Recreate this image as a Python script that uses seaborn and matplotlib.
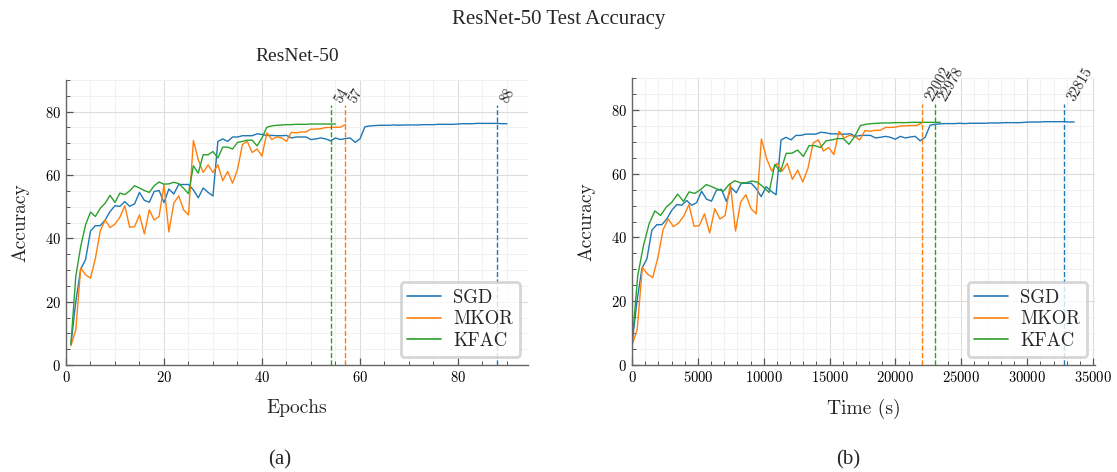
import pandas as pd
import matplotlib
matplotlib.use('Agg')
import matplotlib.pyplot as plt
from matplotlib.ticker import MultipleLocator
import seaborn as sns

# --- data (test accuracy per epoch, epochs start at 1) ---
OPTIMIZERS = ['SGD', 'MKOR', 'KFAC']
COLORS = {'SGD': '#1f77b4', 'MKOR': '#ff7f0e', 'KFAC': '#2ca02c'}

SGD_ACC = [6.5, 20.0, 30.3, 33.3, 42.3, 44.0, 44.0, 45.8, 48.5, 50.3,
           50.1, 51.6, 50.1, 50.9, 54.5, 52.0, 51.4, 54.8, 55.1, 51.3,
           55.6, 54.0, 57.0, 57.0, 57.0, 55.3, 52.8, 55.9, 54.5, 53.4,
           70.6, 71.4, 70.6, 72.0, 72.0, 72.4, 72.4, 72.4, 73.0, 72.8,
           72.5, 72.5, 72.4, 72.4, 72.5, 71.7, 72.0, 72.0, 72.0, 71.2,
           71.4, 71.7, 71.4, 70.8, 71.7, 71.2, 71.5, 71.7, 70.3, 71.4,
           75.2, 75.5, 75.6, 75.7, 75.7, 75.7, 75.8, 75.7, 75.8, 75.8,
           75.8, 75.8, 75.9, 75.9, 75.9, 76.0, 76.0, 76.0, 76.0, 76.1,
           76.2, 76.2, 76.2, 76.3, 76.3, 76.3, 76.3, 76.3, 76.2, 76.2]
MKOR_ACC = [6.1, 11.1, 30.6, 28.5, 27.4, 33.7, 42.4, 45.8, 43.4, 44.5,
            46.7, 50.3, 43.5, 43.7, 47.4, 41.4, 49.0, 45.8, 46.9, 56.9,
            42.0, 51.1, 53.4, 49.0, 47.4, 70.9, 64.8, 60.8, 63.2, 60.8,
            63.2, 58.2, 61.1, 57.4, 61.7, 69.6, 70.6, 67.1, 68.2, 66.0,
            73.3, 71.2, 72.0, 71.7, 70.6, 73.5, 73.3, 73.6, 73.6, 74.5,
            74.5, 74.6, 75.0, 75.0, 75.1, 75.1, 75.9]
KFAC_ACC = [6.5, 28.0, 37.4, 44.3, 48.3, 46.9, 49.5, 51.1, 53.6, 51.3,
            54.3, 53.8, 55.0, 56.6, 55.9, 55.1, 54.5, 56.6, 57.8, 57.1,
            57.2, 57.7, 57.3, 55.8, 54.1, 62.9, 60.6, 66.4, 66.4, 67.4,
            65.4, 68.8, 68.8, 68.2, 70.3, 70.6, 71.0, 71.0, 69.2, 71.7,
            75.1, 75.5, 75.7, 75.8, 75.9, 75.9, 76.0, 76.0, 76.0, 76.1,
            76.1, 76.1, 76.1, 76.1, 76.1]

# wall-clock seconds per epoch, taken from the time labels in panel (b)
SEC_PER_EPOCH = {'SGD': 377.2, 'MKOR': 392.9, 'KFAC': 433.6}

# epoch / time where each optimizer hits the target accuracy
TARGET_EPOCH = {'KFAC': 54, 'MKOR': 57, 'SGD': 88}
TARGET_TIME = {'MKOR': 22002, 'KFAC': 22978, 'SGD': 32815}
MARK_TOP = 82

ACC = {'SGD': SGD_ACC, 'MKOR': MKOR_ACC, 'KFAC': KFAC_ACC}

rows = []
for opt in OPTIMIZERS:
    for i, acc in enumerate(ACC[opt]):
        rows.append({'Optimizer': opt, 'Epoch': i + 1,
                     'Time': i * SEC_PER_EPOCH[opt], 'Accuracy': acc})
df = pd.DataFrame(rows)

sns.set_style('ticks')
plt.rcParams['font.family'] = ['cmr10', 'DejaVu Serif']
plt.rcParams['mathtext.fontset'] = 'cm'
plt.rcParams['axes.formatter.use_mathtext'] = True
plt.rcParams['axes.unicode_minus'] = False

TIMES = ['Liberation Serif', 'DejaVu Serif']

fig = plt.figure(figsize=(11.17, 4.72), dpi=100)
ax1 = fig.add_axes([66 / 1117, 1 - 365 / 472, 462 / 1117, 285 / 472])
ax2 = fig.add_axes([632 / 1117, 1 - 365 / 472, 463 / 1117, 287 / 472])


def style_axes(ax, xmajor, xminor):
    ax.xaxis.set_major_locator(MultipleLocator(xmajor))
    ax.xaxis.set_minor_locator(MultipleLocator(xminor))
    ax.yaxis.set_major_locator(MultipleLocator(20))
    ax.yaxis.set_minor_locator(MultipleLocator(5))
    ax.grid(which='major', color='#dcdcdc', lw=0.8)
    ax.grid(which='minor', color='#efefef', lw=0.6)
    ax.set_axisbelow(True)
    ax.tick_params(which='both', direction='in', top=False, right=False,
                   labelsize=10.5, colors='#555555', labelcolor='black')
    ax.tick_params(which='major', length=5, width=0.9)
    ax.tick_params(which='minor', length=3, width=0.7)
    for s in ['top', 'right']:
        ax.spines[s].set_visible(False)
    for s in ['left', 'bottom']:
        ax.spines[s].set_color('#666666')
        ax.spines[s].set_linewidth(1.0)
    ax.set_ylim(0, 90)
    ax.set_ylabel('Accuracy', fontsize=14, labelpad=11)
    ax.xaxis.labelpad = 10
    leg = ax.legend(loc='lower right', fontsize=13.5, handlelength=1.8,
                    labelspacing=0.2, borderpad=0.35, handletextpad=0.65,
                    borderaxespad=0.45, fancybox=True, framealpha=0.8)
    leg.get_frame().set_edgecolor('#cccccc')
    leg.get_frame().set_linewidth(2.0)
    for h in leg.get_lines():
        h.set_linewidth(1.2)


# (a) accuracy vs epochs
sns.lineplot(data=df, x='Epoch', y='Accuracy', hue='Optimizer',
             hue_order=OPTIMIZERS, palette=COLORS, ax=ax1, lw=1.0)
for opt, ep in TARGET_EPOCH.items():
    ax1.vlines(ep, 0, MARK_TOP, colors=COLORS[opt], linestyles='--', lw=1.0)
    ax1.text(ep + 0.2, MARK_TOP, str(ep), rotation=60, ha='left',
             va='bottom', fontsize=10.5)
ax1.set_xlim(0, 94.3)
ax1.set_xlabel('Epochs', fontsize=14)
ax1.set_title('ResNet-50', fontsize=14, family=TIMES, pad=14)
style_axes(ax1, 20, 5)

# (b) accuracy vs wall-clock time
sns.lineplot(data=df, x='Time', y='Accuracy', hue='Optimizer',
             hue_order=OPTIMIZERS, palette=COLORS, ax=ax2, lw=1.0)
for opt, t in TARGET_TIME.items():
    ax2.vlines(t, 0, MARK_TOP, colors=COLORS[opt], linestyles='--', lw=1.0)
    ax2.text(t + 80, MARK_TOP, str(t), rotation=60, ha='left',
             va='bottom', fontsize=10.5)
ax2.set_xlim(0, 35150)
ax2.set_xlabel('Time (s)', fontsize=14)
style_axes(ax2, 5000, 1000)

fig.suptitle('ResNet-50 Test Accuracy', fontsize=15, family=TIMES, y=0.978)
fig.text(280 / 1117, 1 - 460 / 472, '(a)', fontsize=15, family=TIMES,
         ha='center', va='center')
fig.text(848 / 1117, 1 - 460 / 472, '(b)', fontsize=15, family=TIMES,
         ha='center', va='center')

fig.savefig('out.png', dpi=100)
